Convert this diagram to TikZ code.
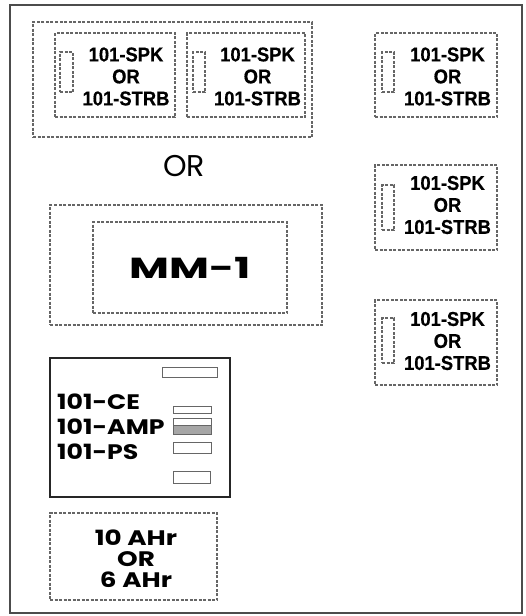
\documentclass[tikz,border=0pt]{standalone}
\usepackage{fontspec}
\newfontfamily\spkfont[FakeBold=0.5]{Liberation Sans}
\newfontfamily\popfont{Poppins}
\begin{document}
\begin{tikzpicture}[x=1pt,y=-1pt,
  dbox/.style={draw=black!60, dash pattern=on 3pt off 1.5pt, line width=1.1pt, inner sep=0pt, rectangle},
  sbox/.style={draw=black!85, line width=1.4pt, inner sep=0pt, rectangle},
  slot/.style={draw=black!60, line width=1pt, inner sep=0pt, rectangle},
  frm/.style={draw=black!70, line width=1.5pt, inner sep=0pt, rectangle},
  spktext/.style={font=\spkfont\bfseries\fontsize{20}{22}\selectfont, align=center, inner sep=0pt, xscale=0.92},
  ortext/.style={font=\popfont\fontsize{30}{30}\selectfont, inner sep=0pt},
  mmtext/.style={font=\popfont\bfseries\fontsize{29}{29}\selectfont, inner sep=0pt, xscale=1.5},
  cetext/.style={font=\popfont\bfseries\fontsize{21}{25}\selectfont, align=left, inner sep=0pt, xscale=1.2},
  battext/.style={font=\popfont\bfseries\fontsize{21}{21}\selectfont, align=center, inner sep=0pt, xscale=1.25}]
\useasboundingbox (0,0) rectangle (525,616);
% outer frame
\node[frm, minimum width=512pt, minimum height=608pt] (frame) at (266,309) {};
% group of two speakers
\node[dbox, minimum width=279pt, minimum height=115pt] (grp) at (172.5,79.5) {};
\node[dbox, minimum width=120pt, minimum height=84pt] (s1) at (115,75) {};
\node[dbox, minimum width=13pt, minimum height=40pt] (s1r) at (66.5,72) {};
\node[spktext] (s1t) at (126,76.5) {101-SPK\\OR\\101-STRB};
\node[dbox, minimum width=118pt, minimum height=84pt] (s2) at (246,75) {};
\node[dbox, minimum width=12pt, minimum height=40pt] (s2r) at (199,72) {};
\node[spktext] (s2t) at (257.5,76.5) {101-SPK\\OR\\101-STRB};
% right column speakers
\node[dbox, minimum width=122pt, minimum height=84pt] (s3) at (436,75) {};
\node[dbox, minimum width=12pt, minimum height=40pt] (s3r) at (388,72) {};
\node[spktext] (s3t) at (447.5,76.5) {101-SPK\\OR\\101-STRB};
\node[dbox, minimum width=122pt, minimum height=85pt] (s4) at (436,207.5) {};
\node[dbox, minimum width=12pt, minimum height=45pt] (s4r) at (388,207.5) {};
\node[spktext] (s4t) at (447.5,205) {101-SPK\\OR\\101-STRB};
\node[dbox, minimum width=122pt, minimum height=85pt] (s5) at (436,342.5) {};
\node[dbox, minimum width=12pt, minimum height=45pt] (s5r) at (388,340.5) {};
\node[spktext] (s5t) at (447.5,341) {101-SPK\\OR\\101-STRB};
% OR
\node[ortext] (or) at (184,166) {OR};
% MM-1
\node[dbox, minimum width=272pt, minimum height=120pt] (mmo) at (186,265) {};
\node[dbox, minimum width=194pt, minimum height=91pt] (mmi) at (190,267.5) {};
\node[mmtext] (mmt) at (190,267.5) {MM-1};
% console
\node[sbox, minimum width=180pt, minimum height=139pt] (con) at (140,427.5) {};
\node[slot, minimum width=55pt, minimum height=10pt] (c1) at (189.5,372) {};
\node[slot, minimum width=38pt, minimum height=7pt] (c2) at (192,409.5) {};
\node[slot, minimum width=38pt, minimum height=7pt] (c3) at (192,421.5) {};
\node[slot, minimum width=38pt, minimum height=9pt, fill=black!35] (c4) at (192,429.5) {};
\node[slot, minimum width=38pt, minimum height=11pt] (c5) at (192,447.5) {};
\node[slot, minimum width=37pt, minimum height=12pt] (c6) at (191.5,477) {};
\node[cetext, anchor=west] (cet) at (57,427) {101-CE\\101-AMP\\101-PS};
% battery
\node[dbox, minimum width=167pt, minimum height=87pt] (bat) at (133.5,556.5) {};
\node[battext] (batt) at (136,559) {10 AHr\\OR\\6 AHr};
\end{tikzpicture}
\end{document}
